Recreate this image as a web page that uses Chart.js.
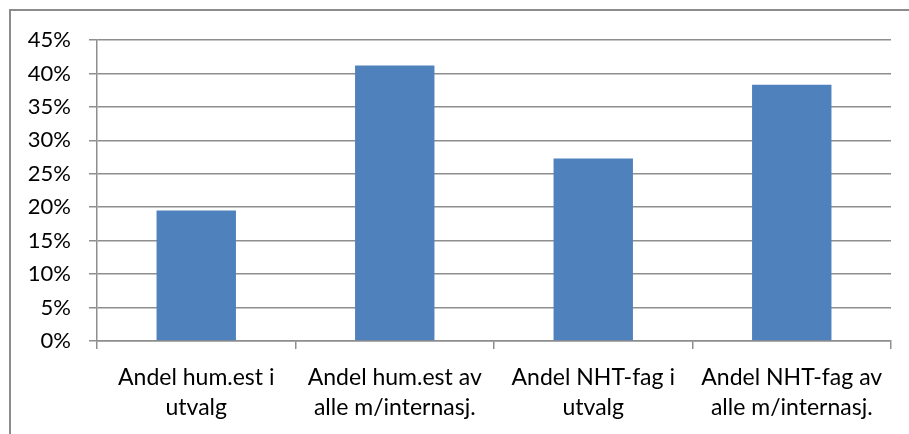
<!DOCTYPE html>
<html>
<head>
<meta charset="utf-8">
<script src="https://cdn.jsdelivr.net/npm/chart.js@4/dist/chart.umd.min.js"></script>
<style>
  html, body { margin: 0; padding: 0; background: #fff; }
  #wrap { position: relative; width: 909px; height: 434px; overflow: hidden; }
  #frame { position: absolute; left: 9px; top: 9px; width: 1000px; height: 1000px;
           border-top: 2px solid #8c8c8c; border-left: 2px solid #8c8c8c; box-sizing: border-box; }
  canvas { position: absolute; left: 0; top: 0; }
</style>
</head>
<body>
<div id="wrap">
  <div id="frame"></div>
  <canvas id="c" width="909" height="434"></canvas>
</div>
<script>
const categories = [
  ["Andel hum.est i", "utvalg"],
  ["Andel hum.est av", "alle m/internasj."],
  ["Andel NHT-fag i", "utvalg"],
  ["Andel NHT-fag av", "alle m/internasj."]
];
const values = [19.5, 41.2, 27.3, 38.3];
const yTicks = [0, 5, 10, 15, 20, 25, 30, 35, 40, 45];

const FONT = "Lato, 'Open Sans', sans-serif";
const GRID = "#8e8e8e";

new Chart(document.getElementById('c'), {
  type: 'bar',
  data: {
    labels: categories,
    datasets: [{
      data: values,
      backgroundColor: '#4F81BD',
      borderWidth: 0,
      categoryPercentage: 1,
      barPercentage: 0.4
    }]
  },
  options: {
    responsive: false,
    animation: false,
    events: [],
    layout: { padding: { top: 40, right: 18, left: 0, bottom: 0 } },
    plugins: { legend: { display: false }, tooltip: { enabled: false } },
    scales: {
      y: {
        min: 0, max: 45,
        afterBuildTicks: (s) => { s.ticks = yTicks.map(v => ({ value: v })); },
        afterFit: (s) => { s.width = 97; },
        grid: { color: GRID, lineWidth: 1.5, tickLength: 8, drawTicks: true },
        border: { color: GRID, width: 1.5 },
        ticks: {
          padding: 18,
          color: '#000',
          font: { family: FONT, size: 22 },
          callback: (v) => v + '%'
        }
      },
      x: {
        afterFit: (s) => { s.height = 93; },
        grid: { drawOnChartArea: false, drawTicks: true, tickLength: 8, color: GRID, lineWidth: 1.5, offset: true },
        border: { color: GRID, width: 1.5 },
        ticks: {
          padding: 13,
          color: '#000',
          maxRotation: 0,
          autoSkip: false,
          font: { family: FONT, size: 23, lineHeight: 1.33 }
        }
      }
    }
  }
});
</script>
</body>
</html>
